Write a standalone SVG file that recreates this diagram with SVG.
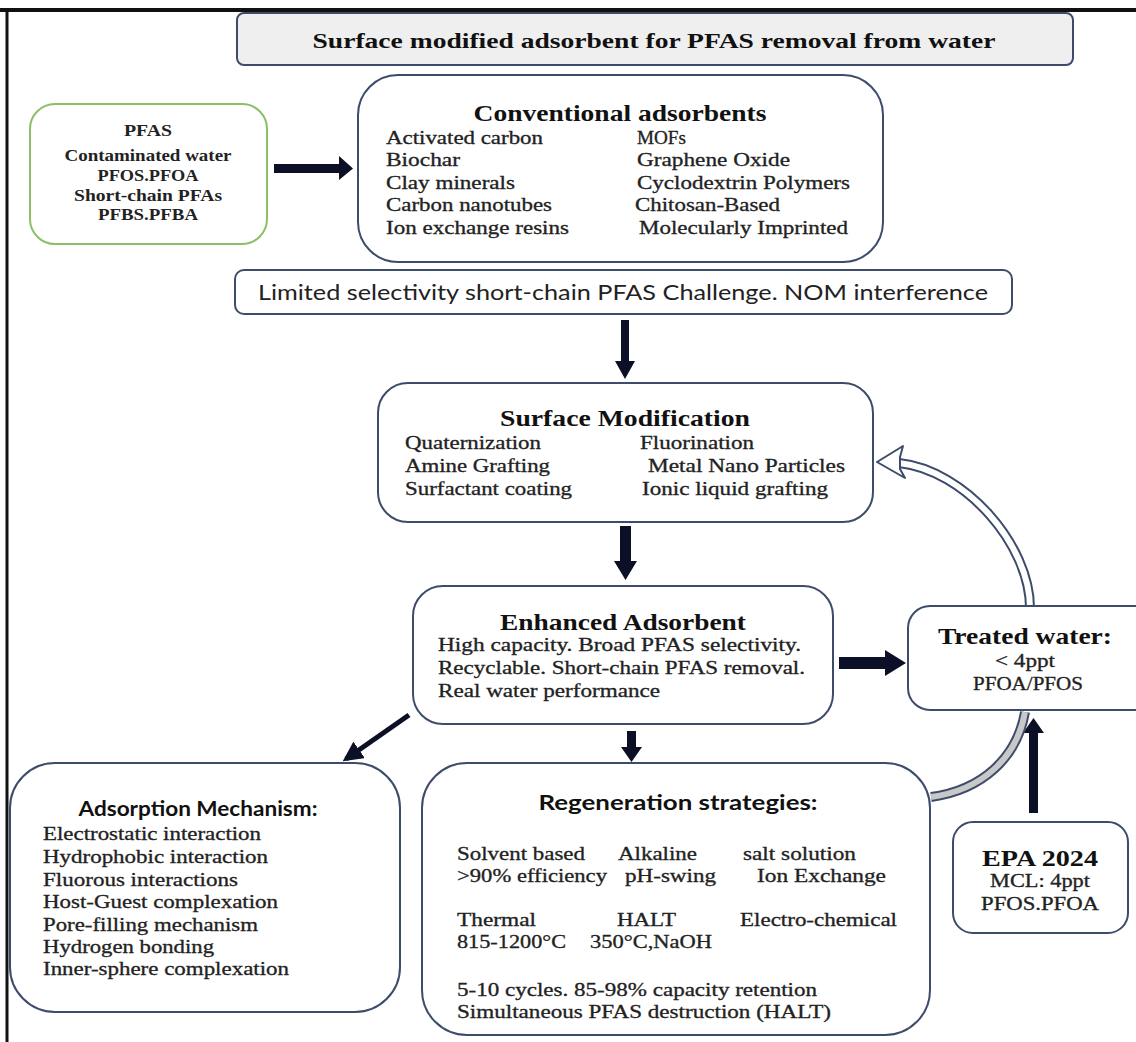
<svg xmlns="http://www.w3.org/2000/svg" width="1136" height="1042" viewBox="0 0 1136 1042">
<style>
.box{fill:#ffffff;stroke:#3d4c6b;stroke-width:2}
.ttl{font-family:"Liberation Serif","Times New Roman",serif;font-weight:bold;font-size:22px;fill:#111}
.h{font-family:"Liberation Serif","Times New Roman",serif;font-weight:bold;font-size:23px;fill:#111}
.hs{font-family:Lato,"Liberation Sans",sans-serif;font-weight:bold;font-size:21px;fill:#111}
.i{font-family:"Liberation Serif","Times New Roman",serif;font-size:18px;fill:#222;stroke:#222;stroke-width:0.3}
.p{font-family:"Liberation Serif","Times New Roman",serif;font-weight:bold;font-size:16px;fill:#222}
.s{font-family:Lato,"Liberation Sans",sans-serif;font-size:22px;fill:#222}
.c{text-anchor:middle}
.blk{fill:#0b1026}
</style>
<defs>
<marker id="ah" viewBox="0 0 10 10" refX="8" refY="5" markerWidth="4" markerHeight="4" orient="auto" markerUnits="strokeWidth">
<path d="M0 0 L10 5 L0 10 z" fill="#0b1026"/>
</marker>
</defs>
<rect width="1136" height="1042" fill="#ffffff"/>
<line x1="0" y1="10" x2="1136" y2="10" stroke="#111" stroke-width="4"/>
<line x1="7" y1="10" x2="7" y2="1042" stroke="#111" stroke-width="3"/>

<g id="connectors">
<polygon class="blk" points="274,164 339,164 339,156 353,168.5 339,180 339,173 274,173"/>
<polygon class="blk" points="621,320 629,320 629,361 635,361 625,379 615,361 621,361"/>
<polygon class="blk" points="620,526 631,526 631,561 637,561 625.5,580 614,561 620,561"/>
<polygon class="blk" points="839,657 885,657 885,650 906,663 885,676 885,669 839,669"/>
<polygon class="blk" points="627,731 636,731 636,747 642,747 631.5,762 621,747 627,747"/>
<line x1="409" y1="715" x2="346" y2="759" stroke="#0b1026" stroke-width="5" marker-end="url(#ah)"/>
<polygon class="blk" points="1029,813 1038,813 1038,733 1044,733 1033.5,718 1023,733 1029,733"/>
<path d="M1025 712 C1017 758 982 790 931 797" fill="none" stroke="#3d4c6b" stroke-width="10"/>
<path d="M1025 712 C1017 758 982 790 931 797" fill="none" stroke="#c8c8c8" stroke-width="6"/>
<path d="M1030 608 C1030 545 965 470 899 463" fill="none" stroke="#3d4c6b" stroke-width="10"/>
<path d="M1030 608 C1030 545 965 470 899 463" fill="none" stroke="#ffffff" stroke-width="6"/>
<polygon points="877,462 903,446 900,457 900,469 905,478" fill="#ffffff" stroke="#3d4c6b" stroke-width="2" stroke-linejoin="round"/>
</g>

<g id="title">
<rect x="237" y="13" width="836" height="52" rx="7" fill="#efefef" stroke="#3d4c6b" stroke-width="2"/>
<text class="ttl c" x="654" y="48" textLength="683" lengthAdjust="spacingAndGlyphs">Surface modified adsorbent for PFAS removal from water</text>
</g>

<g id="pfas">
<rect x="30" y="104" width="237" height="140" rx="25" fill="#ffffff" stroke="#8cc068" stroke-width="2"/>
<text class="p c" x="148" y="136" textLength="48" lengthAdjust="spacingAndGlyphs">PFAS</text>
<text class="p c" x="148" y="161" textLength="167" lengthAdjust="spacingAndGlyphs">Contaminated water</text>
<text class="p c" x="148" y="181" textLength="101" lengthAdjust="spacingAndGlyphs">PFOS.PFOA</text>
<text class="p c" x="148" y="201" textLength="148" lengthAdjust="spacingAndGlyphs">Short-chain PFAs</text>
<text class="p c" x="148" y="220" textLength="100" lengthAdjust="spacingAndGlyphs">PFBS.PFBA</text>
</g>

<g id="conventional">
<rect class="box" x="358" y="75" width="525" height="187" rx="40"/>
<text class="h c" x="620" y="121" textLength="293" lengthAdjust="spacingAndGlyphs">Conventional adsorbents</text>
<text class="i" x="386" y="144" textLength="157" lengthAdjust="spacingAndGlyphs">Activated carbon</text>
<text class="i" x="386" y="166" textLength="74" lengthAdjust="spacingAndGlyphs">Biochar</text>
<text class="i" x="386" y="189" textLength="129" lengthAdjust="spacingAndGlyphs">Clay minerals</text>
<text class="i" x="386" y="211" textLength="166" lengthAdjust="spacingAndGlyphs">Carbon nanotubes</text>
<text class="i" x="386" y="234" textLength="183" lengthAdjust="spacingAndGlyphs">Ion exchange resins</text>
<text class="i" x="637" y="144" textLength="49" lengthAdjust="spacingAndGlyphs">MOFs</text>
<text class="i" x="637" y="166" textLength="153" lengthAdjust="spacingAndGlyphs">Graphene Oxide</text>
<text class="i" x="637" y="189" textLength="213" lengthAdjust="spacingAndGlyphs">Cyclodextrin Polymers</text>
<text class="i" x="635" y="211" textLength="145" lengthAdjust="spacingAndGlyphs">Chitosan-Based</text>
<text class="i" x="639" y="234" textLength="209" lengthAdjust="spacingAndGlyphs">Molecularly Imprinted</text>
</g>

<g id="limited">
<rect class="box" x="235" y="270" width="777" height="44" rx="9"/>
<text class="s c" x="623" y="300" textLength="730" lengthAdjust="spacingAndGlyphs">Limited selectivity short-chain PFAS Challenge. NOM interference</text>
</g>

<g id="surface-modification">
<rect class="box" x="378" y="383" width="495" height="139" rx="30"/>
<text class="h c" x="625" y="426" textLength="250" lengthAdjust="spacingAndGlyphs">Surface Modification</text>
<text class="i" x="405" y="449" textLength="136" lengthAdjust="spacingAndGlyphs">Quaternization</text>
<text class="i" x="405" y="472" textLength="145" lengthAdjust="spacingAndGlyphs">Amine Grafting</text>
<text class="i" x="405" y="495" textLength="167" lengthAdjust="spacingAndGlyphs">Surfactant coating</text>
<text class="i" x="640" y="449" textLength="114" lengthAdjust="spacingAndGlyphs">Fluorination</text>
<text class="i" x="648" y="472" textLength="197" lengthAdjust="spacingAndGlyphs">Metal Nano Particles</text>
<text class="i" x="642" y="495" textLength="186" lengthAdjust="spacingAndGlyphs">Ionic liquid grafting</text>
</g>

<g id="enhanced-adsorbent">
<rect class="box" x="413" y="586" width="420" height="138" rx="30"/>
<text class="h c" x="623" y="630" textLength="246" lengthAdjust="spacingAndGlyphs">Enhanced Adsorbent</text>
<text class="i" x="438" y="651" textLength="363" lengthAdjust="spacingAndGlyphs">High capacity. Broad PFAS selectivity.</text>
<text class="i" x="438" y="674" textLength="367" lengthAdjust="spacingAndGlyphs">Recyclable. Short-chain PFAS removal.</text>
<text class="i" x="438" y="697" textLength="222" lengthAdjust="spacingAndGlyphs">Real water performance</text>
</g>

<g id="treated-water">
<rect class="box" x="908" y="606" width="260" height="104" rx="22"/>
<text class="h c" x="1025" y="644" textLength="174" lengthAdjust="spacingAndGlyphs">Treated water:</text>
<text class="i c" x="1025" y="667" textLength="60" lengthAdjust="spacingAndGlyphs">&lt; 4ppt</text>
<text class="i c" x="1028" y="690" textLength="110" lengthAdjust="spacingAndGlyphs">PFOA/PFOS</text>
</g>

<g id="adsorption-mechanism">
<rect class="box" x="10" y="763" width="390" height="249" rx="45"/>
<text class="hs c" x="198" y="816" textLength="239" lengthAdjust="spacingAndGlyphs">Adsorption Mechanism:</text>
<text class="i" x="43" y="840" textLength="218" lengthAdjust="spacingAndGlyphs">Electrostatic interaction</text>
<text class="i" x="43" y="863" textLength="225" lengthAdjust="spacingAndGlyphs">Hydrophobic interaction</text>
<text class="i" x="43" y="886" textLength="195" lengthAdjust="spacingAndGlyphs">Fluorous interactions</text>
<text class="i" x="43" y="908" textLength="235" lengthAdjust="spacingAndGlyphs">Host-Guest complexation</text>
<text class="i" x="43" y="931" textLength="215" lengthAdjust="spacingAndGlyphs">Pore-filling mechanism</text>
<text class="i" x="43" y="953" textLength="171" lengthAdjust="spacingAndGlyphs">Hydrogen bonding</text>
<text class="i" x="43" y="975" textLength="246" lengthAdjust="spacingAndGlyphs">Inner-sphere complexation</text>
</g>

<g id="regeneration-strategies">
<rect class="box" x="422" y="763" width="508" height="272" rx="45"/>
<text class="hs c" x="678" y="810" textLength="279" lengthAdjust="spacingAndGlyphs">Regeneration strategies:</text>
<text class="i" x="457" y="860" textLength="128" lengthAdjust="spacingAndGlyphs">Solvent based</text>
<text class="i" x="618" y="860" textLength="79" lengthAdjust="spacingAndGlyphs">Alkaline</text>
<text class="i" x="743" y="860" textLength="113" lengthAdjust="spacingAndGlyphs">salt solution</text>
<text class="i" x="457" y="882" textLength="150" lengthAdjust="spacingAndGlyphs">&gt;90% efficiency</text>
<text class="i" x="625" y="882" textLength="91" lengthAdjust="spacingAndGlyphs">pH-swing</text>
<text class="i" x="757" y="882" textLength="129" lengthAdjust="spacingAndGlyphs">Ion Exchange</text>
<text class="i" x="457" y="926" textLength="79" lengthAdjust="spacingAndGlyphs">Thermal</text>
<text class="i" x="617" y="926" textLength="59" lengthAdjust="spacingAndGlyphs">HALT</text>
<text class="i" x="740" y="926" textLength="157" lengthAdjust="spacingAndGlyphs">Electro-chemical</text>
<text class="i" x="457" y="948" textLength="109" lengthAdjust="spacingAndGlyphs">815-1200°C</text>
<text class="i" x="590" y="948" textLength="122" lengthAdjust="spacingAndGlyphs">350°C,NaOH</text>
<text class="i" x="457" y="996" textLength="360" lengthAdjust="spacingAndGlyphs">5-10 cycles. 85-98% capacity retention</text>
<text class="i" x="457" y="1018" textLength="374" lengthAdjust="spacingAndGlyphs">Simultaneous PFAS destruction (HALT)</text>
</g>

<g id="epa-2024">
<rect class="box" x="953" y="822" width="175" height="111" rx="20"/>
<text class="h c" x="1040" y="866" textLength="116" lengthAdjust="spacingAndGlyphs">EPA 2024</text>
<text class="i c" x="1040" y="887" textLength="100" lengthAdjust="spacingAndGlyphs">MCL: 4ppt</text>
<text class="i c" x="1040" y="910" textLength="118" lengthAdjust="spacingAndGlyphs">PFOS.PFOA</text>
</g>
</svg>
